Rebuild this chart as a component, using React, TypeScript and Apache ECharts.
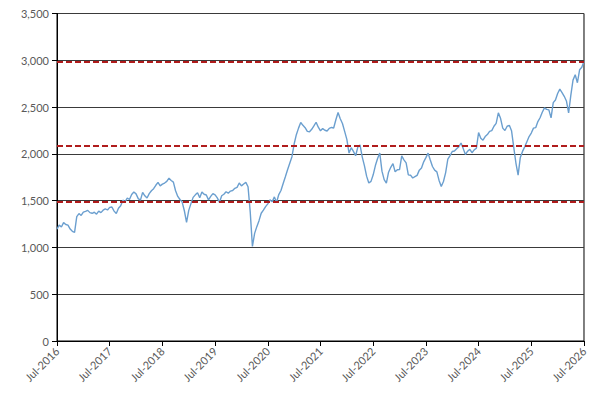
import React, { useEffect, useRef } from "react";
import * as echarts from "echarts";

const startYear = 2016;

// semi-monthly observations, Jul-2016 .. Jul-2026 (241 points)
const values: number[] = [
  1195, 1240, 1218, 1265, 1245, 1238, 1196, 1172, 1160, 1330,
  1362, 1342, 1378, 1385, 1396, 1372, 1365, 1376, 1355, 1388,
  1372, 1398, 1412, 1400, 1428, 1432, 1388, 1362, 1418, 1445,
  1505, 1488, 1528, 1512, 1565, 1592, 1572, 1522, 1505, 1588,
  1552, 1528, 1575, 1606, 1628, 1664, 1695, 1658, 1676, 1688,
  1706, 1740, 1715, 1698, 1606, 1545, 1512, 1485, 1392, 1268,
  1396, 1468, 1535, 1562, 1585, 1532, 1592, 1568, 1560, 1508,
  1545, 1575, 1562, 1530, 1482, 1552, 1568, 1595, 1580, 1602,
  1608, 1632, 1642, 1688, 1658, 1678, 1695, 1648, 1380, 1010,
  1150, 1222, 1286, 1365, 1398, 1436, 1466, 1508, 1488, 1540,
  1482, 1565, 1608, 1684, 1756, 1830, 1900, 1970, 2105, 2205,
  2275, 2335, 2305, 2280, 2240, 2236, 2262, 2298, 2338, 2285,
  2246, 2270, 2252, 2244, 2272, 2282, 2276, 2365, 2442, 2375,
  2325, 2240, 2155, 2008, 2066, 2026, 1980, 2072, 2096, 1968,
  1875, 1762, 1688, 1706, 1776, 1875, 1950, 2008, 1815, 1724,
  1688, 1804, 1856, 1896, 1808, 1830, 1832, 1978, 1936, 1904,
  1776, 1772, 1742, 1756, 1770, 1826, 1850, 1915, 1960, 2008,
  1935, 1865, 1826, 1808, 1716, 1652, 1705, 1800, 1945, 1982,
  2025, 2030, 2055, 2076, 2116, 2056, 1992, 2028, 2048, 2012,
  2042, 2060, 2228, 2168, 2146, 2185, 2206, 2240, 2248, 2295,
  2326, 2438, 2380, 2275, 2250, 2295, 2305, 2248, 2072, 1902,
  1772, 1962, 2026, 2075, 2130, 2185, 2222, 2275, 2280, 2345,
  2386, 2445, 2492, 2476, 2470, 2385, 2548, 2576, 2645, 2692,
  2655, 2615, 2565, 2438, 2625, 2788, 2845, 2760, 2898, 2925,
  2990,
];

const levels: number[] = [2980, 2085, 1485];

const monthNames = ["Jan", "Feb", "Mar", "Apr", "May", "Jun", "Jul", "Aug", "Sep", "Oct", "Nov", "Dec"];

// category labels: month-year, second half of month marked with "b"
const categories: string[] = values.map((_, i) => {
  const m = 6 + Math.floor(i / 2);
  const y = startYear + Math.floor(m / 12);
  const mm = m % 12;
  return `${monthNames[mm]}-${y}${i % 2 === 1 ? "b" : ""}`;
});

export default function App() {
  const ref = useRef<HTMLDivElement>(null);
  useEffect(() => {
    if (!ref.current) return;
    const chart = echarts.init(ref.current, undefined, { renderer: "svg" });
    const font = "Lato, 'Open Sans', sans-serif";
    chart.setOption({
      animation: false,
      backgroundColor: "#ffffff",
      grid: {
        left: 49,
        right: 5,
        top: 5,
        bottom: 60,
        show: true,
        borderColor: "#000000",
        borderWidth: 1,
        containLabel: false,
      },
      xAxis: {
        type: "category",
        data: categories,
        boundaryGap: false,
        axisLine: { show: true, lineStyle: { color: "#000000", width: 1 } },
        axisTick: {
          show: true,
          inside: false,
          length: 5,
          interval: (idx: number) => idx % 24 === 0,
          lineStyle: { color: "#000000" },
        },
        axisLabel: {
          interval: (idx: number) => idx % 24 === 0,
          rotate: 45,
          color: "#595959",
          fontSize: 11,
          fontFamily: font,
          margin: 8,
          formatter: (v: string) => v.replace("b", ""),
        },
        splitLine: { show: false },
      },
      yAxis: {
        type: "value",
        min: 0,
        max: 3500,
        interval: 500,
        axisLine: { show: true, lineStyle: { color: "#000000", width: 1 } },
        axisTick: { show: true, inside: false, length: 5, lineStyle: { color: "#000000" } },
        axisLabel: {
          color: "#595959",
          fontSize: 11,
          fontFamily: font,
          margin: 8,
          formatter: (v: number) => v.toLocaleString("en-US"),
        },
        splitLine: { show: true, lineStyle: { color: "#3a3a3a", width: 1 } },
      },
      series: [
        {
          type: "line",
          data: values,
          showSymbol: false,
          symbol: "none",
          lineStyle: { color: "#6b9fcf", width: 1.4 },
          z: 3,
          markLine: {
            silent: true,
            symbol: "none",
            label: { show: false },
            lineStyle: { color: "#b01c1c", type: [6, 3], width: 2 },
            data: levels.map((l) => ({ yAxis: l })),
            z: 4,
          },
        },
      ],
    });
    return () => chart.dispose();
  }, []);
  return <div ref={ref} style={{ width: 582, height: 393 }} />;
}
